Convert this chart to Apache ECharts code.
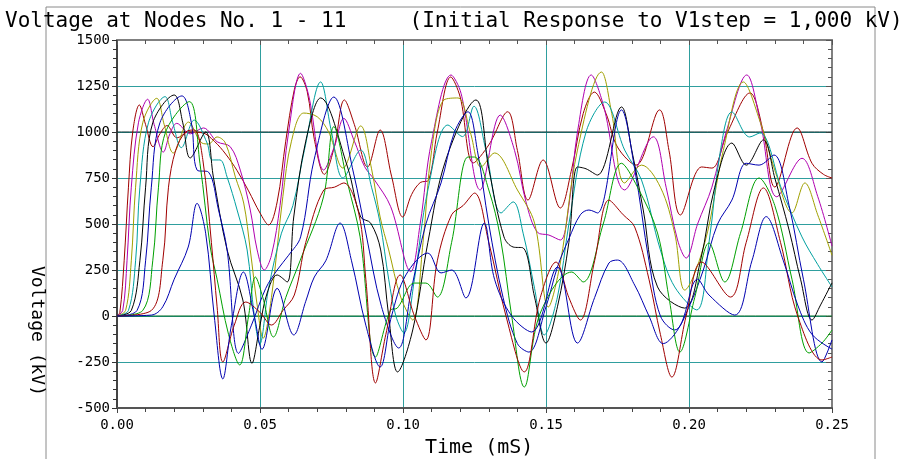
<!DOCTYPE html>
<html>
<head>
<meta charset="utf-8">
<script src="https://cdn.jsdelivr.net/npm/echarts@6/dist/echarts.min.js"></script>
<style>
  html, body { margin: 0; padding: 0; background: #fff; }
  #main { width: 907px; height: 459px; }
</style>
</head>
<body>
<div id="main"></div>
<script>
// tick labels
var xTicks = [0, 0.05, 0.1, 0.15, 0.2, 0.25];
var yTicks = [-500, -250, 0, 250, 500, 750, 1000, 1250, 1500];

// node voltages, [time (mS), kV]
var node1 = [[0, 1000], [0.25, 1000]];
var node2 = [[0,0],[.001,20],[.0025,300],[.004,700],[.0055,1000],[.0078,1147],[.0100,1040],[.0126,920],[.015,990],[.0175,1035],[.021,968],[.025,1000],[.030,995],[.034,950],[.038,880],[.042,790],[.046,680],[.050,560],[.053,495],[.056,620],[.059,950],[.062,1230],[.064,1300],[.0665,1220],[.069,960],[.0725,770],[.076,920],[.0795,1174],[.083,1040],[.0876,810],[.092,1011],[.096,760],[.0999,538],[.103,660],[.106,725],[.109,740],[.112,1000],[.1167,1299],[.120,1190],[.1246,832],[.130,930],[.1366,1110],[.140,900],[.1437,630],[.149,848],[.155,587],[.159,800],[.163,1100],[.1669,1217],[.171,1100],[.175,918],[.1815,820],[.1897,1120],[.193,900],[.197,549],[.2044,810],[.208,804],[.2135,1000],[.2213,1212],[.226,1000],[.230,701],[.2378,1022],[.243,830],[.247,770],[.25,750]];
var node3 = [[0,0],[.002,30],[.0035,300],[.005,700],[.0075,1050],[.0107,1178],[.013,1040],[.0162,891],[.0185,990],[.0209,1047],[.0256,990],[.0302,1022],[.035,947],[.0396,920],[.0431,793],[.0466,576],[.049,359],[.0515,250],[.054,330],[.057,600],[.060,1000],[.0642,1319],[.067,1200],[.0723,793],[.076,920],[.0793,1074],[.083,950],[.0866,811],[.090,740],[.0957,594],[.1027,241],[.106,500],[.110,950],[.1168,1310],[.1203,1210],[.127,685],[.134,1092],[.139,900],[.143,620],[.147,455],[.151,440],[.155,413],[.158,600],[.161,1000],[.1658,1310],[.170,1150],[.1775,685],[.1875,974],[.192,700],[.196,413],[.199,315],[.203,500],[.208,700],[.213,1000],[.2202,1310],[.225,1050],[.2307,648],[.2395,857],[.245,650],[.25,380]];
var node4 = [[0,0],[.003,30],[.005,300],[.0065,700],[.009,1050],[.0139,1183],[.0165,1040],[.0197,886],[.025,1054],[.0297,940],[.032,935],[.035,973],[.0379,940],[.0414,755],[.0443,614],[.0466,359],[.049,60],[.0511,-121],[.054,100],[.058,650],[.061,950],[.0653,1103],[.070,1083],[.074,1000],[.079,804],[.0852,1033],[.089,800],[.092,538],[.095,359],[.0992,103],[.1034,-22],[.107,400],[.110,900],[.1143,1174],[.1192,1185],[.1235,1000],[.1273,810],[.132,886],[.140,685],[.146,505],[.1508,49],[.155,288],[.161,902],[.1694,1326],[.173,1100],[.1775,723],[.1834,820],[.190,700],[.195,450],[.1985,141],[.2055,397],[.212,900],[.219,1272],[.225,1050],[.230,793],[.236,560],[.2405,723],[.245,550],[.25,330]];
var node5 = [[0,0],[.004,30],[.0065,300],[.008,700],[.011,1050],[.0168,1192],[.0195,1050],[.0225,915],[.027,1065],[.0315,940],[.0333,848],[.036,848],[.0385,755],[.042,576],[.0455,359],[.048,0],[.0499,-152],[.053,150],[.0575,450],[.0615,600],[.0655,900],[.0712,1272],[.075,1000],[.079,750],[.0852,902],[.089,700],[.092,505],[.095,200],[.0975,0],[.1003,-92],[.104,200],[.1087,685],[.1157,1038],[.1208,975],[.1248,1140],[.129,900],[.1343,560],[.1385,620],[.142,450],[.146,150],[.1494,-103],[.154,103],[.158,500],[.164,1000],[.1705,1163],[.1775,902],[.1834,739],[.190,359],[.195,158],[.2027,33],[.207,400],[.211,900],[.215,1109],[.2212,973],[.2248,995],[.2325,685],[.2395,430],[.245,280],[.25,158]];
var node6 = [[0,0],[.005,30],[.008,300],[.010,700],[.0125,1050],[.020,1201],[.023,1050],[.0256,859],[.031,1000],[.0337,755],[.0385,359],[.044,87],[.0472,-257],[.050,-50],[.0525,125],[.056,223],[.0595,185],[.0618,538],[.066,950],[.0712,1185],[.0806,810],[.0852,538],[.0887,505],[.0922,359],[.095,0],[.0981,-304],[.1034,-76],[.1087,400],[.115,850],[.1255,1174],[.130,800],[.1353,430],[.1385,375],[.142,370],[.146,103],[.150,-147],[.154,50],[.158,400],[.161,810],[.164,800],[.168,766],[.1764,1136],[.180,900],[.184,576],[.189,158],[.1985,43],[.204,300],[.209,700],[.215,940],[.220,820],[.226,957],[.230,750],[.235,467],[.239,200],[.243,-22],[.246,60],[.25,180]];
var node7 = [[0,0],[.007,30],[.010,300],[.012,700],[.015,1050],[.0227,1196],[.026,1050],[.028,793],[.032,782],[.0355,576],[.0385,359],[.0425,-203],[.047,-50],[.052,150],[.056,250],[.060,330],[.0642,430],[.0689,848],[.0758,1190],[.0827,777],[.087,451],[.0925,50],[.0985,-174],[.103,150],[.108,500],[.1133,723],[.118,1000],[.1227,1110],[.126,900],[.130,500],[.135,100],[.140,-150],[.144,-196],[.150,50],[.154,266],[.158,420],[.162,550],[.165,576],[.168,560],[.1764,1120],[.181,800],[.186,300],[.190,0],[.195,-76],[.200,50],[.205,250],[.210,500],[.215,630],[.220,830],[.2245,820],[.2297,875],[.235,600],[.240,200],[.2465,-250],[.25,-130]];
var node8 = [[0,0],[.009,30],[.0125,300],[.0145,700],[.017,1000],[.0253,1165],[.029,830],[.0326,375],[.035,200],[.039,-100],[.0429,-266],[.046,0],[.0484,212],[.051,100],[.0547,-114],[.059,100],[.064,300],[.0722,647],[.0758,1029],[.0806,723],[.085,430],[.0904,-223],[.0957,33],[.098,43],[.104,179],[.108,179],[.112,103],[.117,400],[.1227,864],[.125,864],[.130,685],[.134,430],[.138,0],[.1424,-386],[.148,16],[.159,239],[.163,185],[.170,500],[.1764,830],[.182,700],[.189,451],[.193,100],[.1968,-196],[.202,100],[.207,397],[.2125,185],[.218,450],[.2245,750],[.230,600],[.236,200],[.242,-201],[.2465,-147],[.25,-76]];
var node9 = [[0,0],[.012,30],[.016,300],[.018,700],[.0205,900],[.024,1000],[.027,1011],[.030,850],[.033,400],[.035,50],[.037,-250],[.041,-50],[.045,76],[.050,20],[.054,-49],[.058,30],[.062,114],[.066,400],[.0723,685],[.076,700],[.0793,723],[.0845,560],[.087,200],[.0904,-364],[.094,-100],[.099,223],[.104,0],[.108,-130],[.112,300],[.117,550],[.121,600],[.125,668],[.130,400],[.136,0],[.1424,-304],[.148,100],[.1535,293],[.158,100],[.162,-22],[.167,300],[.172,630],[.177,550],[.181,484],[.186,200],[.190,-100],[.194,-332],[.199,0],[.2044,293],[.2145,103],[.220,400],[.226,696],[.232,400],[.238,0],[.2465,-239],[.25,-223]];
var node10 = [[0,0],[.012,5],[.016,50],[.020,200],[.0249,375],[.028,612],[.031,450],[.034,0],[.037,-342],[.040,-50],[.0442,239],[.048,0],[.0507,-181],[.056,150],[.0618,-103],[.066,80],[.069,212],[.073,300],[.078,505],[.082,300],[.087,-50],[.092,-277],[.096,0],[.101,223],[.1087,342],[.1133,234],[.117,250],[.122,98],[.1284,505],[.132,200],[.138,0],[.145,-87],[.154,266],[.161,-147],[.167,100],[.172,288],[.175,304],[.181,168],[.186,0],[.191,-150],[.197,-50],[.203,200],[.207,114],[.216,5],[.222,300],[.227,540],[.233,300],[.238,60],[.243,-100],[.25,-180]];
var node11 = [[0, 0], [0.25, 0]];

var nodes = [node1, node2, node3, node4, node5, node6, node7, node8, node9, node10, node11];

var myChart = echarts.init(document.getElementById("main"));

var colors = ["#0a2a2a", "#a00000", "#b000b0", "#a0a000", "#00a0a0", "#000000",
  "#0000b0", "#00a000", "#a00000", "#0000b0", "#006a20"];
var gridColor = "#2f9e9e";
var mono = "DejaVu Sans Mono";
// plot width 715 px so that every 0.05 mS falls on a whole pixel
var box = { left: 117, right: 75, top: 40, bottom: 51 };

var series = nodes.map(function (d, i) {
  return {
    name: "Node " + (i + 1),
    type: "line",
    xAxisIndex: 0,
    yAxisIndex: 0,
    data: d,
    smooth: 0.35,
    showSymbol: false,
    lineStyle: { color: colors[i], width: 1 },
    z: i === 0 || i === 10 ? 3 : 4,
  };
});

var option = {
  animation: false,
  backgroundColor: "#fff",
  color: colors,
  title: {
    text: "Voltage at Nodes No. 1 - 11     (Initial Response to V1step = 1,000 kV)",
    left: 0,
    top: 6,
    textStyle: { fontFamily: mono, fontSize: 21, fontWeight: "normal", color: "#000" },
  },
  grid: [
    Object.assign({ containLabel: false }, box),
    Object.assign({ containLabel: false }, box),
  ],
  xAxis: [
    {
      gridIndex: 0,
      type: "value",
      position: "bottom",
      min: xTicks[0],
      max: xTicks[xTicks.length - 1],
      interval: 0.05,
      axisLine: { onZero: false, lineStyle: { color: "#555", width: 2 } },
      axisTick: { length: 5, lineStyle: { color: "#444" } },
      minorTick: { show: true, splitNumber: 5, length: 4, lineStyle: { color: "#444" } },
      splitLine: { show: true, lineStyle: { color: gridColor, width: 1 } },
      axisLabel: {
        margin: 10,
        fontFamily: mono,
        fontSize: 14,
        color: "#000",
        formatter: function (v) { return v.toFixed(2); },
      },
    },
    {
      gridIndex: 1,
      type: "value",
      position: "top",
      min: xTicks[0],
      max: xTicks[xTicks.length - 1],
      interval: 0.05,
      axisLine: { onZero: false, lineStyle: { color: "#808080", width: 2 } },
      axisTick: { inside: true, length: 5, lineStyle: { color: "#555" } },
      minorTick: { show: true, splitNumber: 5, length: 4, lineStyle: { color: "#555" } },
      splitLine: { show: false },
      axisLabel: { show: false },
    },
  ],
  yAxis: [
    {
      gridIndex: 0,
      type: "value",
      position: "left",
      min: yTicks[0],
      max: yTicks[yTicks.length - 1],
      interval: 250,
      axisLine: { show: true, onZero: false, lineStyle: { color: "#444", width: 2 } },
      axisTick: { show: true, length: 5, lineStyle: { color: "#333" } },
      minorTick: { show: true, splitNumber: 5, length: 4, lineStyle: { color: "#333" } },
      splitLine: { show: true, lineStyle: { color: gridColor, width: 1 } },
      axisLabel: {
        margin: 7,
        fontFamily: mono,
        fontSize: 14,
        color: "#000",
        formatter: function (v) { return String(v); },
      },
    },
    {
      gridIndex: 1,
      type: "value",
      position: "right",
      min: yTicks[0],
      max: yTicks[yTicks.length - 1],
      interval: 250,
      axisLine: { show: true, onZero: false, lineStyle: { color: "#808080", width: 2 } },
      axisTick: { show: true, inside: true, length: 6, lineStyle: { color: "#555" } },
      minorTick: { show: true, splitNumber: 5, length: 4, lineStyle: { color: "#555" } },
      splitLine: { show: false },
      axisLabel: { show: false },
    },
  ],
  graphic: [
    // outer frame
    {
      type: "polyline",
      silent: true,
      shape: { points: [[46, 470], [46, 7], [875, 7], [875, 470]] },
      style: { stroke: "#8a8a8a", lineWidth: 1, fill: null },
      z: 0,
    },
    {
      type: "text",
      left: 425,
      top: 438,
      style: { text: "Time (mS)", fontFamily: mono, fontSize: 20, fill: "#000" },
    },
    {
      type: "text",
      x: 37,
      y: 331,
      rotation: -Math.PI / 2,
      style: {
        text: "Voltage (kV)",
        fontFamily: mono,
        fontSize: 18,
        fill: "#000",
        align: "center",
        verticalAlign: "middle",
      },
    },
  ],
  series: series,
};

myChart.setOption(option);
</script>
</body>
</html>
